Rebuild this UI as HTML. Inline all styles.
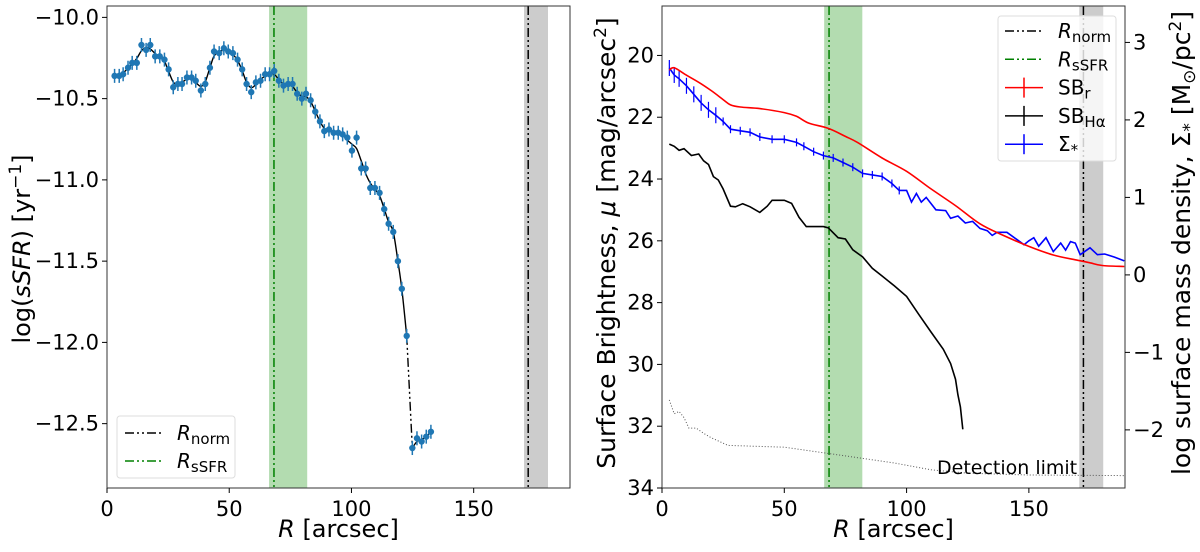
<!DOCTYPE html>
<html><head><meta charset="utf-8"><style>
html,body{margin:0;padding:0;background:#fff}
svg text{font-family:"DejaVu Sans","Liberation Sans",sans-serif}
</style></head><body>
<svg id="fig" width="1200" height="547" viewBox="0 0 1200 547" xmlns="http://www.w3.org/2000/svg">
<g id="left"></g>
<g id="right"></g>
</svg>
<script>
// ---------- data ----------
const ssfrR = [3.1,5,6.6,8.6,10.3,12.2,14.1,16,17.7,19.7,21.6,23.5,25.2,27.1,29,30.7,32.7,34.6,36.3,38.4,40.2,42.1,43.8,45.9,47.8,49.6,51.5,53.4,55.3,57.1,59,60.9,62.8,64.7,66.5,68.4,70.3,72.2,74.1,75.9,77.8,79.7,81.4,83.3,85.2,87.1,88.9,90.8,92.7,94.6,96.4,98.3,100.2,102.1,104,105.8,107.7,109.6,111.5,113.4,115.2,117.1,119,120.6,122.6,124.9,126.8,128.7,130.6,132.5];
const ssfrV = [-10.36,-10.36,-10.35,-10.31,-10.28,-10.28,-10.17,-10.20,-10.17,-10.24,-10.24,-10.26,-10.32,-10.43,-10.41,-10.41,-10.37,-10.37,-10.39,-10.45,-10.41,-10.31,-10.21,-10.22,-10.19,-10.21,-10.22,-10.26,-10.32,-10.41,-10.46,-10.40,-10.39,-10.35,-10.35,-10.33,-10.39,-10.42,-10.41,-10.41,-10.47,-10.50,-10.47,-10.51,-10.58,-10.64,-10.70,-10.69,-10.71,-10.71,-10.72,-10.74,-10.82,-10.74,-10.93,-10.93,-11.05,-11.05,-11.08,-11.18,-11.27,-11.32,-11.50,-11.67,-11.96,-12.65,-12.59,-12.61,-12.58,-12.55];
const leftXTicks = [0,50,100,150];
const leftYTicks = [-10.0,-10.5,-11.0,-11.5,-12.0,-12.5];
const leftYLabels = ["\u221210.0","\u221210.5","\u221211.0","\u221211.5","\u221212.0","\u221212.5"];

const sbrR = [3,5,10,15,20,25,28,32,40,50,55,60,68,75,80,90,100,110,120,130,140,150,160,170,175,180,189];
const sbrV = [20.47,20.4,20.64,20.87,21.13,21.43,21.6,21.67,21.72,21.85,21.97,22.19,22.36,22.62,22.82,23.32,23.75,24.32,24.86,25.45,25.84,26.18,26.46,26.63,26.71,26.8,26.83];
const haR = [3,5,7,9,12,15,17,19,21,23,25,28,30,33,36,40,43,45,50,53,56,59,66,68,72,75,78,82,86,90,95,100,105,110,115,118,120,121,122,123];
const haV = [22.87,22.94,23.07,23.02,23.24,23.19,23.41,23.53,23.92,24.03,24.32,24.88,24.9,24.8,24.9,25.08,24.88,24.69,24.69,24.79,25.24,25.54,25.54,25.58,25.9,25.94,26.29,26.52,26.89,27.14,27.46,27.8,28.38,28.95,29.51,29.97,30.48,30.98,31.38,32.1];
const sigR = [3,5,7,10,13,16,19,22,25,28,32,36,40,45,50,55,58,62,66,70,74,78,82,86,90,94,97,100,102,104,106,108,112,116,118,121,124,127,130,133,135,137,141,145,148,150,152,154,157,160,163,165,167,169,171,175,178,181,185,189];
const sigV = [2.67,2.58,2.53,2.44,2.33,2.22,2.13,2.06,1.98,1.88,1.86,1.84,1.78,1.75,1.75,1.71,1.66,1.59,1.54,1.51,1.45,1.39,1.31,1.29,1.27,1.18,1.09,1.09,0.94,1.05,0.94,1.0,0.84,0.83,0.73,0.76,0.67,0.69,0.6,0.57,0.51,0.55,0.55,0.46,0.39,0.44,0.48,0.37,0.48,0.3,0.41,0.32,0.43,0.41,0.26,0.35,0.26,0.27,0.23,0.18];
const detR = [3,5,7,9,11,14,17,20,27,50,75,95,110,125,150,189];
const detV = [31.15,31.6,31.52,31.72,32.06,32.06,32.23,32.37,32.62,32.68,32.96,33.19,33.41,33.52,33.58,33.6];
const rightXTicks = [0,50,100,150];
const rightYTicks = [20,22,24,26,28,30,32,34];
const right2Ticks = [3,2,1,0,-1,-2];
const right2Labels = ["3","2","1","0","\u22121","\u22122"];
const bands = {ssfrLo:66.3, ssfrHi:81.9, ssfrLine:68.3, normLo:170.6, normHi:180.4, normLine:172.3};

// ---------- helpers ----------
const NS="http://www.w3.org/2000/svg";
function mk(parent,tag,attrs,txt){const e=document.createElementNS(NS,tag);for(const k in attrs)e.setAttribute(k,attrs[k]);if(txt!==undefined)e.textContent=txt;parent.appendChild(e);return e;}
const DASH="9,3,2,3,2,3";
function spline(P){ // catmull-rom
 if(P.length<2)return '';
 let d='M'+P[0][0].toFixed(1)+','+P[0][1].toFixed(1);
 for(let i=0;i<P.length-1;i++){
  const p0=P[Math.max(0,i-1)],p1=P[i],p2=P[i+1],p3=P[Math.min(P.length-1,i+2)];
  const c1=[p1[0]+(p2[0]-p0[0])/6,p1[1]+(p2[1]-p0[1])/6];
  const c2=[p2[0]-(p3[0]-p1[0])/6,p2[1]-(p3[1]-p1[1])/6];
  d+='C'+c1[0].toFixed(1)+','+c1[1].toFixed(1)+' '+c2[0].toFixed(1)+','+c2[1].toFixed(1)+' '+p2[0].toFixed(1)+','+p2[1].toFixed(1);
 }
 return d;
}

// ---------- left panel ----------
(function(){
 const g=document.getElementById('left');
 const L=107,R=570,T=6,B=488;
 const x=v=>L+(v-0)/(189.4-0)*(R-L);
 const y=v=>T+(-9.93-v)/(-9.93+12.896)*(B-T);
 let e;
 e=mk(g,'rect',{x:x(bands.ssfrLo),y:T,width:x(bands.ssfrHi)-x(bands.ssfrLo),height:B-T,fill:'#b3dcb0'});
 
 e=mk(g,'rect',{x:x(bands.normLo),y:T,width:x(bands.normHi)-x(bands.normLo),height:B-T,fill:'#cccccc'});
 
 e=mk(g,'line',{x1:x(bands.ssfrLine),x2:x(bands.ssfrLine),y1:T,y2:B,stroke:'#008000','stroke-width':1.5,'stroke-dasharray':DASH});
 
 e=mk(g,'line',{x1:x(bands.normLine),x2:x(bands.normLine),y1:T,y2:B,stroke:'#000','stroke-width':1.5,'stroke-dasharray':DASH});
 
 const n=ssfrR.length, gap=64;
 const sm=ssfrV.map((v,i)=>{ if(i===0||i===n-1||i>=gap-3&&i<=gap+1) return v; return (ssfrV[i-1]+2*v+ssfrV[i+1])/4;});
 const P1=[],P3=[];
 for(let i=0;i<=gap;i++) P1.push([x(ssfrR[i]),y(sm[i])]);
 for(let i=gap+1;i<n;i++) P3.push([x(ssfrR[i]),y(sm[i])]);
 e=mk(g,'path',{d:spline(P1),fill:'none',stroke:'#000','stroke-width':1.4});
 
 e=mk(g,'path',{d:'M'+x(ssfrR[gap])+','+y(sm[gap])+'L'+x(ssfrR[gap+1])+','+y(sm[gap+1]),fill:'none',stroke:'#000','stroke-width':1.4,'stroke-dasharray':DASH});
 
 e=mk(g,'path',{d:spline(P3),fill:'none',stroke:'#000','stroke-width':1.4});
 
 const pts=mk(g,'g',{});
 
 for(let i=0;i<n;i++){
  const px=x(ssfrR[i]),py=y(ssfrV[i]);
  e=mk(pts,'line',{x1:px,x2:px,y1:py-7,y2:py+7,stroke:'#1f77b4','stroke-width':1.5});
  
  e=mk(pts,'circle',{cx:px,cy:py,r:3.2,fill:'#1f77b4'});
  
 }
 e=mk(g,'rect',{x:L,y:T,width:R-L,height:B-T,fill:'none',stroke:'#333','stroke-width':1});
 
 leftXTicks.forEach(t=>{
  e=mk(g,'line',{x1:x(t),x2:x(t),y1:B,y2:B+5,stroke:'#000'});
  
  e=mk(g,'text',{x:x(t),y:B+28,'text-anchor':'middle','font-size':21},String(t));
  
 });
 leftYTicks.forEach((t,i)=>{
  e=mk(g,'line',{x1:L-5,x2:L,y1:y(t),y2:y(t),stroke:'#000'});
  
  e=mk(g,'text',{x:L-8,y:y(t)+7,'text-anchor':'end','font-size':21},leftYLabels[i]);
  
 });
 e=mk(g,'text',{x:(L+R)/2,y:537,'text-anchor':'middle','font-size':24});
 e.innerHTML='<tspan font-style="italic">R</tspan> [arcsec]';
 
 e=mk(g,'text',{x:0,y:0,'text-anchor':'middle','font-size':24,transform:'translate(30,249) rotate(-90)'});
 e.innerHTML='log(<tspan font-style="italic">sSFR</tspan>) [yr<tspan dy="-9" font-size="17">\u22121</tspan><tspan dy="9">]</tspan>';
 
 const lg=mk(g,'g',{});
 
 mk(lg,'rect',{x:117,y:416,width:118,height:62,rx:3,fill:'#fff','fill-opacity':0.8,stroke:'#ddd'});
 e=mk(lg,'line',{x1:125,x2:163,y1:433,y2:433,stroke:'#000','stroke-width':1.5,'stroke-dasharray':DASH});
 
 e=mk(lg,'line',{x1:125,x2:163,y1:461,y2:461,stroke:'#008000','stroke-width':1.5,'stroke-dasharray':DASH});
 
 e=mk(lg,'text',{x:177,y:440,'font-size':20});e.innerHTML='<tspan font-style="italic">R</tspan><tspan dy="4" font-size="15">norm</tspan>';
 
 e=mk(lg,'text',{x:177,y:468,'font-size':20});e.innerHTML='<tspan font-style="italic">R</tspan><tspan dy="4" font-size="15">sSFR</tspan>';
 
})();

// ---------- right panel ----------
(function(){
 const g=document.getElementById('right');
 const L=662,R=1125,T=6,B=488;
 const XMAX=189.3;
 const x=v=>L+v/XMAX*(R-L);
 const y=v=>B-(34-v)/(34-18.4)*(B-T);
 const y2=v=>T+(3.47-v)/(3.47+2.75)*(B-T);
 let e;
 e=mk(g,'rect',{x:x(bands.ssfrLo),y:T,width:x(bands.ssfrHi)-x(bands.ssfrLo),height:B-T,fill:'#b3dcb0'});
 
 e=mk(g,'rect',{x:x(bands.normLo),y:T,width:x(bands.normHi)-x(bands.normLo),height:B-T,fill:'#cccccc'});
 
 e=mk(g,'line',{x1:x(bands.ssfrLine),x2:x(bands.ssfrLine),y1:T,y2:B,stroke:'#008000','stroke-width':1.5,'stroke-dasharray':DASH});
 
 e=mk(g,'line',{x1:x(bands.normLine),x2:x(bands.normLine),y1:T,y2:B,stroke:'#000','stroke-width':1.5,'stroke-dasharray':DASH});
 
 const path=(xs,ys,fy)=>xs.map((v,i)=>(i?'L':'M')+x(v).toFixed(1)+','+fy(ys[i]).toFixed(1)).join('');
 e=mk(g,'path',{d:path(detR,detV,y),fill:'none',stroke:'#555','stroke-width':1,'stroke-dasharray':'1,2'});
 
 e=mk(g,'text',{x:937,y:474,'font-size':19},'Detection limit');
 
 e=mk(g,'path',{d:path(haR,haV,y),fill:'none',stroke:'#000','stroke-width':1.6});
 
 e=mk(g,'path',{d:path(sigR,sigV,y2),fill:'none',stroke:'#0000ff','stroke-width':1.6});
 
 sigR.forEach((r,i)=>{ if(r<100){const px=x(r),py=y2(sigV[i]);const h=r<25?8:4;
  e=mk(g,'line',{x1:px,x2:px,y1:py-h,y2:py+h,stroke:'#0000ff','stroke-width':1.2});
  }});
 e=mk(g,'path',{d:spline(sbrR.map((r,i)=>[x(r),y(sbrV[i])])),fill:'none',stroke:'#ff0000','stroke-width':1.6});
 
 e=mk(g,'rect',{x:L,y:T,width:R-L,height:B-T,fill:'none',stroke:'#333','stroke-width':1});
 
 rightXTicks.forEach(t=>{
  e=mk(g,'line',{x1:x(t),x2:x(t),y1:B,y2:B+5,stroke:'#000'});
  
  e=mk(g,'text',{x:x(t),y:B+28,'text-anchor':'middle','font-size':21},String(t));
  
 });
 rightYTicks.forEach(t=>{
  e=mk(g,'line',{x1:L-5,x2:L,y1:y(t),y2:y(t),stroke:'#000'});
  
  e=mk(g,'text',{x:L-8,y:y(t)+7,'text-anchor':'end','font-size':21},String(t));
  
 });
 right2Ticks.forEach((t,i)=>{
  e=mk(g,'line',{x1:R,x2:R+5,y1:y2(t),y2:y2(t),stroke:'#000'});
  
  e=mk(g,'text',{x:R+8,y:y2(t)+7,'text-anchor':'start','font-size':21},right2Labels[i]);
  
 });
 e=mk(g,'text',{x:(L+R)/2,y:537,'text-anchor':'middle','font-size':24});
 e.innerHTML='<tspan font-style="italic">R</tspan> [arcsec]';
 
 e=mk(g,'text',{x:0,y:0,'text-anchor':'middle','font-size':25,transform:'translate(615,243) rotate(-90)'});
 e.innerHTML='Surface Brightness, <tspan font-style="italic">\u03bc</tspan> [mag/arcsec<tspan dy="-9" font-size="17">2</tspan><tspan dy="9">]</tspan>';
 
 e=mk(g,'text',{x:0,y:0,'text-anchor':'middle','font-size':25,transform:'translate(1190,243) rotate(-90)'});
 e.innerHTML='log surface mass density, \u03a3<tspan dy="5" font-size="17">*</tspan><tspan dy="-5"> [M</tspan><tspan dy="5" font-size="17">\u2299</tspan><tspan dy="-5">/pc</tspan><tspan dy="-9" font-size="17">2</tspan><tspan dy="9">]</tspan>';
 
 const lg=mk(g,'g',{});
 
 mk(lg,'rect',{x:998,y:16,width:118,height:145,rx:3,fill:'#fff','fill-opacity':0.8,stroke:'#ddd'});
 const rows=[{c:'#000',dash:true,lab:'<tspan font-style="italic">R</tspan><tspan dy="4" font-size="15">norm</tspan>',n:'rnorm'},
  {c:'#008000',dash:true,lab:'<tspan font-style="italic">R</tspan><tspan dy="4" font-size="15">sSFR</tspan>',n:'rssfr'},
  {c:'#ff0000',dash:false,lab:'SB<tspan dy="4" font-size="15">r</tspan>',n:'sb-r'},
  {c:'#000',dash:false,lab:'SB<tspan dy="4" font-size="15">H\u03b1</tspan>',n:'sb-halpha'},
  {c:'#0000ff',dash:false,lab:'\u03a3<tspan dy="4" font-size="15">*</tspan>',n:'sigma-star'}];
 rows.forEach((r,i)=>{
  const yy=31+i*28.3;
  const a={x1:1005,x2:1043,y1:yy,y2:yy,stroke:r.c,'stroke-width':1.5};
  if(r.dash)a['stroke-dasharray']=DASH;
  e=mk(lg,'line',a);
  
  if(!r.dash){e=mk(lg,'line',{x1:1024,x2:1024,y1:yy-10,y2:yy+10,stroke:r.c,'stroke-width':1.5});
   }
  e=mk(lg,'text',{x:1058,y:yy+7,'font-size':20});e.innerHTML=r.lab;
  
 });
})();
</script>
</body></html>
